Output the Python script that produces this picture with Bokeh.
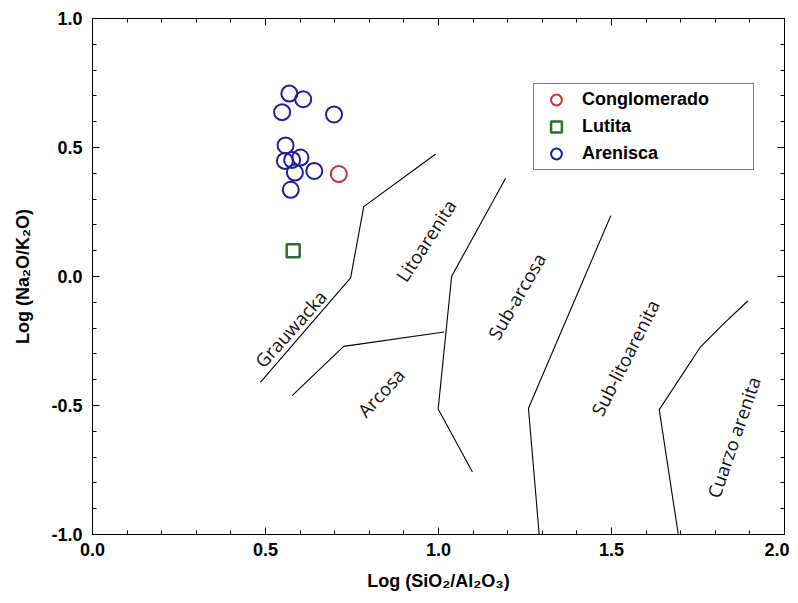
from bokeh.plotting import figure
from bokeh.models import (Legend, LegendItem, LinearAxis, SingleIntervalTicker,
                          CustomJSTickFormatter, Range1d)
from bokeh.core.properties import value
from bokeh.embed import file_html
from bokeh.resources import INLINE
import math

# ---- data ----
cong_x = [0.712]
cong_y = [0.397]

lut_x = [0.580]
lut_y = [0.100]

aren_x = [0.569, 0.609, 0.548, 0.698, 0.558, 0.556, 0.577, 0.601, 0.585, 0.641, 0.573]
aren_y = [0.709, 0.687, 0.637, 0.628, 0.508, 0.448, 0.452, 0.461, 0.403, 0.409, 0.336]

# classification boundaries
b1_x = [0.485, 0.746, 0.784, 0.992]
b1_y = [-0.410, -0.005, 0.271, 0.475]
b2_x = [0.577, 0.726, 1.016]
b2_y = [-0.462, -0.271, -0.215]
b3_x = [1.194, 1.038, 0.999, 1.098]
b3_y = [0.381, 0.001, -0.514, -0.758]
b4_x = [1.498, 1.260, 1.291]
b4_y = [0.236, -0.511, -1.000]
b5_x = [1.894, 1.826, 1.756, 1.638, 1.693]
b5_y = [-0.095, -0.181, -0.275, -0.516, -1.000]

region_names = ["Grauwacka", "Litoarenita", "Arcosa", "Sub-arcosa", "Sub-litoarenita", "Cuarzo arenita"]
region_x = [0.572, 0.963, 0.833, 1.225, 1.539, 1.852]
region_y = [-0.202, 0.140, -0.449, -0.076, -0.314, -0.623]
region_angle_deg = [48, 57, 47, 60, 63, 71]

x_label = "Log (SiO\u2082/Al\u2082O\u2083)"
y_label = "Log (Na\u2082O/K\u2082O)"

# ---- figure ----
p = figure(output_backend="svg", toolbar_location=None,
           frame_width=692, frame_height=516,
           x_range=Range1d(0, 2), y_range=Range1d(-1, 1),
           min_border_left=92, min_border_top=18, min_border_right=5, min_border_bottom=62)
p.grid.visible = False
p.outline_line_color = "black"
p.background_fill_color = "white"
p.border_fill_color = "white"

TICK_FONT = "Liberation Sans"

def style_axis(ax, labels=True):
    ax.ticker = SingleIntervalTicker(interval=0.5, num_minor_ticks=5)
    ax.major_tick_in = 7
    ax.major_tick_out = 0
    ax.minor_tick_in = 4
    ax.minor_tick_out = 0
    ax.axis_line_color = "black"
    ax.major_tick_line_color = "black"
    ax.minor_tick_line_color = "black"
    ax.major_label_text_font = TICK_FONT
    ax.major_label_text_font_style = "bold"
    ax.major_label_text_font_size = "18px"
    ax.major_label_text_color = "black"
    ax.axis_label_text_font = TICK_FONT
    ax.axis_label_text_font_style = "bold"
    ax.axis_label_text_font_size = "18px"
    ax.axis_label_text_color = "black"
    if labels:
        ax.formatter = CustomJSTickFormatter(code="return tick.toFixed(1)")
    else:
        ax.formatter = CustomJSTickFormatter(code="return ''")
        ax.major_label_standoff = 0

style_axis(p.xaxis[0])
style_axis(p.yaxis[0])
p.xaxis[0].major_label_standoff = 8
p.yaxis[0].major_label_standoff = 10
p.xaxis[0].axis_label = x_label
p.yaxis[0].axis_label = y_label
p.xaxis[0].axis_label_standoff = 12
p.yaxis[0].axis_label_standoff = 15

top_ax = LinearAxis()
style_axis(top_ax, labels=False)
p.add_layout(top_ax, "above")
right_ax = LinearAxis()
style_axis(right_ax, labels=False)
p.add_layout(right_ax, "right")

# boundaries
for bx, by in [(b1_x, b1_y), (b2_x, b2_y), (b3_x, b3_y), (b4_x, b4_y), (b5_x, b5_y)]:
    p.line(bx, by, line_color="black", line_width=1.1)

# region labels
p.text(x=region_x, y=region_y, text=region_names,
       angle=[math.radians(a) for a in region_angle_deg],
       text_font=value("Open Sans"), text_font_size="18.5px",
       text_align="center", text_baseline="middle", text_color="#111111")

# data points
BLUE = "#1d1d9c"
RED = "#c6323a"
GREEN = "#2e6e2e"
r_c = p.scatter(cong_x, cong_y, marker="circle", size=16, fill_color=None,
                line_color=RED, line_width=2)
r_l = p.scatter(lut_x, lut_y, marker="square", size=13, fill_color=None,
                line_color=GREEN, line_width=2.5)
r_a = p.scatter(aren_x, aren_y, marker="circle", size=16, fill_color=None,
                line_color=BLUE, line_width=2)

legend = Legend(items=[LegendItem(label="Conglomerado", renderers=[r_c]),
                       LegendItem(label="Lutita", renderers=[r_l]),
                       LegendItem(label="Arenisca", renderers=[r_a])],
                location=(441, 364), margin=0, padding=2, spacing=-5,
                glyph_width=40, glyph_height=27, label_height=27,
                label_standoff=6, label_width=169,
                label_text_font=TICK_FONT, label_text_font_style="bold",
                label_text_font_size="18px", label_text_color="black",
                border_line_color="black", border_line_width=1,
                background_fill_color="white", background_fill_alpha=1.0)
p.add_layout(legend, "center")

open("out.html", "w").write(file_html(p, INLINE))
